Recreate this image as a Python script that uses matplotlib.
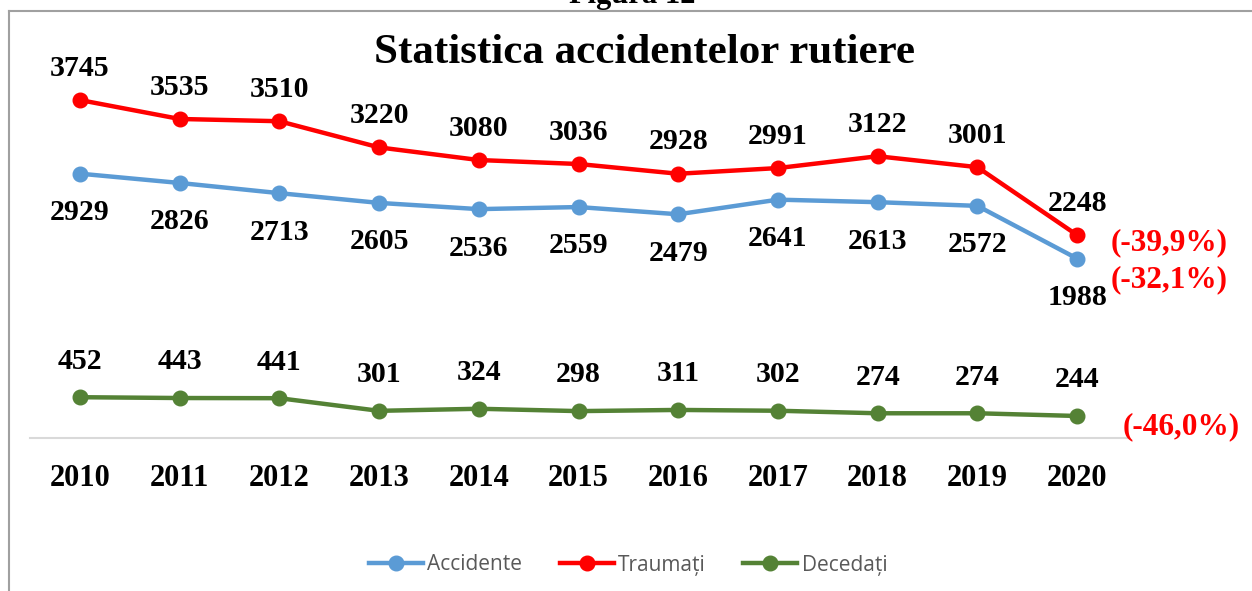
import matplotlib
matplotlib.use("Agg")
import matplotlib.pyplot as plt
from matplotlib.lines import Line2D

years = ["2010", "2011", "2012", "2013", "2014", "2015", "2016", "2017", "2018", "2019", "2020"]
accidente = [2929, 2826, 2713, 2605, 2536, 2559, 2479, 2641, 2613, 2572, 1988]
traumati = [3745, 3535, 3510, 3220, 3080, 3036, 2928, 2991, 3122, 3001, 2248]
decedati = [452, 443, 441, 301, 324, 298, 311, 302, 274, 274, 244]
series_names = ["Accidente", "Traumați", "Decedați"]
pct_labels = ["(-32,1%)", "(-39,9%)", "(-46,0%)"]

c_acc = "#5B9BD5"
c_tra = "#FF0000"
c_dec = "#548235"

W, H = 1252, 591
fig = plt.figure(figsize=(W / 100, H / 100), dpi=100)
serif = ["Liberation Serif", "DejaVu Serif"]

ax = fig.add_axes([30 / W, 1 - 438 / H, (1127 - 30) / W, (438 - 77) / H])
x = list(range(len(years)))
lw, ms = 3.2, 10.5
ax.plot(x, accidente, color=c_acc, lw=lw, marker="o", ms=ms, solid_capstyle="round", zorder=3)
ax.plot(x, traumati, color=c_tra, lw=lw, marker="o", ms=ms, solid_capstyle="round", zorder=3)
ax.plot(x, decedati, color=c_dec, lw=lw, marker="o", ms=ms, solid_capstyle="round", zorder=3)

ax.set_xlim(-0.5, len(years) - 0.5)
ax.set_ylim(0, 4000)
for s in ["top", "right", "left"]:
    ax.spines[s].set_visible(False)
ax.spines["bottom"].set_color("#D9D9D9")
ax.spines["bottom"].set_linewidth(1.5)
ax.set_yticks([])
ax.set_xticks(x)
ax.set_xticklabels(years, fontfamily=serif, fontweight="bold", fontsize=22)
ax.tick_params(axis="x", length=0, pad=19)

lab_kw = dict(fontfamily=serif, fontweight="bold", fontsize=21.5, ha="center", va="center", clip_on=False)
for i in x:
    ax.annotate(str(traumati[i]), (i, traumati[i]), xytext=(0, 23), textcoords="offset points", **lab_kw)
    ax.annotate(str(accidente[i]), (i, accidente[i]), xytext=(0, -28), textcoords="offset points", **lab_kw)
    ax.annotate(str(decedati[i]), (i, decedati[i]), xytext=(0, 26), textcoords="offset points", **lab_kw)

pct_kw = dict(fontfamily=serif, fontweight="bold", fontsize=22.5, color="red", ha="center", va="center")
fig.text(1169 / W, 1 - 243 / H, pct_labels[1], **pct_kw)
fig.text(1169 / W, 1 - 280 / H, pct_labels[0], **pct_kw)
fig.text(1181 / W, 1 - 427 / H, pct_labels[2], **pct_kw)

fig.text(645 / W, 1 - 53 / H, "Statistica accidentelor rutiere", fontfamily=serif,
         fontweight="bold", fontsize=31, ha="center", va="center")
fig.text(632 / W, 1 - 3 / H, "Figura 12", fontfamily=serif, fontweight="bold",
         fontsize=22, ha="center", va="baseline")

# chart frame (top and left borders)
fig.add_artist(Line2D([9 / W, 1], [1 - 11 / H, 1 - 11 / H], color="#A0A0A0", lw=1.5))
fig.add_artist(Line2D([9 / W, 9 / W], [1 - 11 / H, 0], color="#A0A0A0", lw=1.5))

handles = [Line2D([], [], color=c, lw=lw, marker="o", ms=ms) for c in (c_acc, c_tra, c_dec)]
leg = fig.legend(handles, series_names, loc="center", bbox_to_anchor=(628 / W, 1 - 565 / H),
                 ncol=3, frameon=False, handlelength=2.6, handletextpad=0.2, columnspacing=1.8,
                 prop={"family": ["Open Sans", "DejaVu Sans"], "size": 15})
for t in leg.get_texts():
    t.set_color("#595959")

fig.savefig("out.png", dpi=100)
